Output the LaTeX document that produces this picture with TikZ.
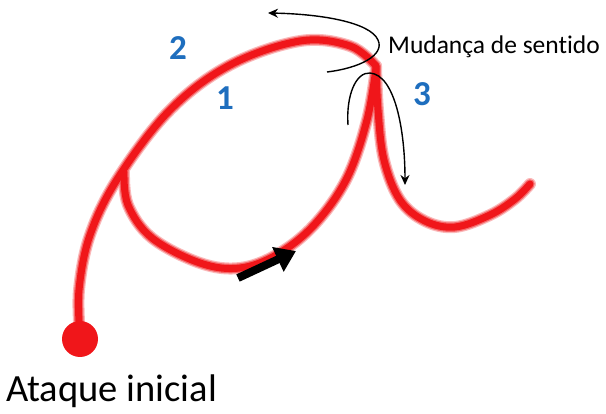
\documentclass[tikz,border=0pt]{standalone}
\usepackage{fontspec}
\setmainfont[Ligatures=NoCommon]{Carlito}
\usetikzlibrary{arrows.meta}
\definecolor{trail}{RGB}{240,22,26}
\definecolor{numblue}{RGB}{30,110,190}
\tikzset{
  trailglow/.style={draw=trail!30, line width=12pt, line cap=round, line join=round},
  trailmid/.style={draw=trail!65, line width=9.5pt, line cap=round, line join=round},
  trailcore/.style={draw=trail, line width=7pt, line cap=round, line join=round},
  numlabel/.style={text=numblue, font=\fontsize{35}{35}\selectfont\bfseries, inner sep=0pt},
  turnarrow/.style={draw=black, line width=1.4pt, -{Stealth[length=10pt,width=9pt]}},
}
\begin{document}
\begin{tikzpicture}[x=1pt,y=-1pt]
\useasboundingbox (0,0) rectangle (606,414);
% red trail, three passes of glow
\foreach \st in {trailglow,trailmid,trailcore}{
  \draw[\st] plot[smooth,tension=0.6] coordinates {(80,335) (79,290) (90,235) (118,178) (170,110) (230,65) (300,41) (350,46) (376,66)};
  \draw[\st] plot[smooth,tension=0.6] coordinates {(124,172) (128,205) (152,238) (200,263) (240,268) (278,254) (315,224) (347,178) (367,120) (376,68)};
  \draw[\st] plot[smooth,tension=0.6] coordinates {(376,66) (378,110) (384,160) (400,200) (425,221) (455,227) (490,215) (515,199) (530,184)};
}
\node[circle, fill=trail, minimum size=36pt, inner sep=0pt] (start) at (80,339) {};
% labels
\node[numlabel] (n2) at (178,48) {2};
\node[numlabel] (n1) at (225,98) {1};
\node[numlabel] (n3) at (422,94) {3};
\node[anchor=base west, inner sep=0pt, font=\fontsize{25.5}{25.5}\selectfont] (mud) at (388,54) {Mudança de sentido};
\node[anchor=base west, inner sep=0pt, font=\fontsize{38.5}{38.5}\selectfont] (ataque) at (6,402) {Ataque inicial};
% black turn arrows
\draw[turnarrow] (327,72) .. controls (360,68) and (385,55) .. (378,40) .. controls (370,22) and (320,14) .. (268,13);
\draw[turnarrow] (348,125) .. controls (346,95) and (356,72) .. (370,73) .. controls (395,75) and (405,130) .. (405,185);
% thick direction arrow
\draw[line width=8pt, -{Triangle[length=20pt,width=26pt]}] (238,278) -- (296,251);
\end{tikzpicture}
\end{document}
